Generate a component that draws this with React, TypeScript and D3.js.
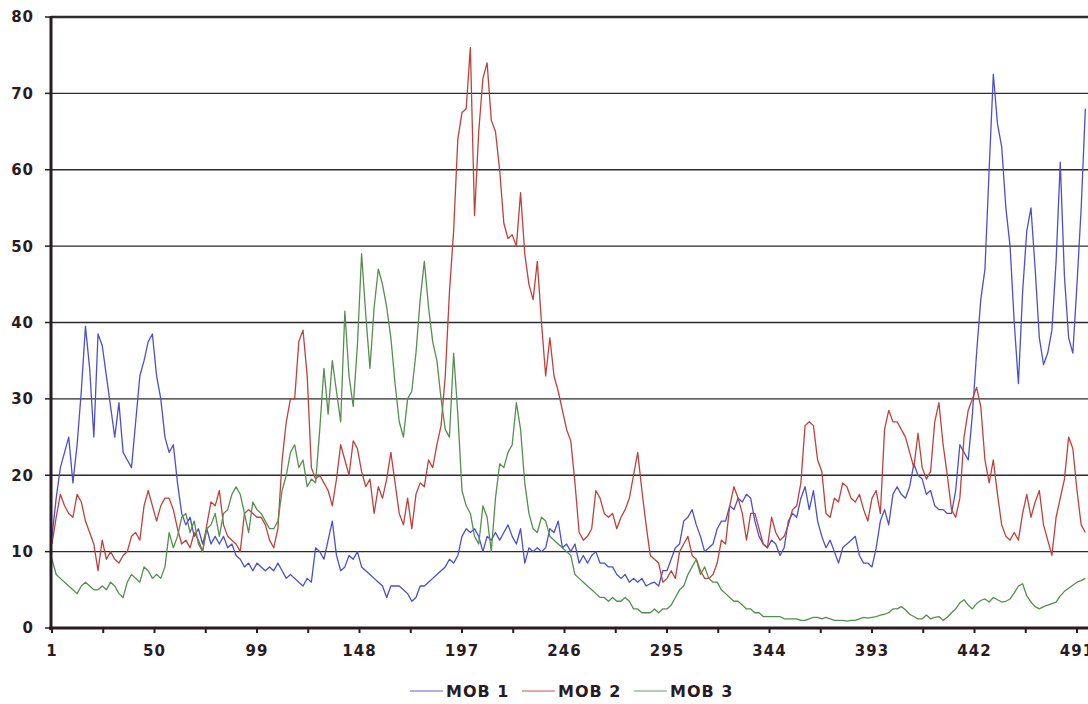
import React from "react";
import * as d3 from "d3";

// one value every 2 categories: x = 1, 3, 5, ... 495
const mob1 = [
  12, 17, 21, 23, 25, 19, 24, 31, 39.5, 34,
  25, 38.5, 37, 33, 29, 25, 29.5, 23, 22, 21,
  27, 33, 35, 37.5, 38.5, 33, 30, 25, 23, 24,
  19, 15, 13.5, 14.5, 12, 13, 11, 13, 11, 12,
  11, 12, 10.5, 11, 9.5, 9, 8, 8.5, 7.5, 8.5,
  8, 7.5, 8, 7.5, 8.5, 7.5, 6.5, 7, 6.5, 6,
  5.5, 6.5, 6, 10.5, 10, 9, 11.5, 14, 9.5, 7.5,
  8, 9.5, 9, 10, 8, 7.5, 7, 6.5, 6, 5.5,
  4, 5.5, 5.5, 5.5, 5, 4.5, 3.5, 4, 5.5, 5.5,
  6, 6.5, 7, 7.5, 8, 9, 8.5, 9.5, 12, 13,
  12.5, 13, 12, 10, 12, 11.5, 12.5, 11.5, 12.5, 13.5,
  12, 11, 13, 8.5, 10.5, 10, 10.5, 10, 10.5, 13,
  12.5, 14, 10.5, 11, 10, 11, 8.5, 9.5, 8.5, 9.5,
  10, 8.5, 8.5, 8, 8, 7, 6.5, 7, 6, 6.5,
  6, 6.5, 5.5, 5.8, 6, 5.5, 7.5, 7.5, 9, 10.5,
  11, 14, 14.5, 15.5, 13.5, 12, 10, 10.5, 11, 13,
  14, 14, 16, 15.5, 17, 16.5, 17.5, 17, 14, 12,
  11, 10.5, 11.5, 11, 9.5, 10.5, 14, 15, 14.5, 17,
  18.5, 15.5, 18, 14, 12, 10.5, 11.5, 10, 8.5, 10.5,
  11, 11.5, 12, 9.5, 8.5, 8.5, 8, 10.5, 14, 15.5,
  13.5, 17.5, 18.5, 17.5, 17, 18.5, 21.5, 20, 19.5, 17.5,
  18, 16, 15.5, 15.5, 15, 15, 18, 24, 23, 22,
  28, 36, 43, 47, 60, 72.5, 66, 63, 55, 50,
  40, 32, 44, 52, 55, 47, 38, 34.5, 36, 39,
  48, 61, 46, 38, 36, 45, 55, 68,
];

const mob2 = [
  11, 14.5, 17.5, 16, 15, 14.5, 17.5, 16.5, 14, 12.5,
  11, 7.5, 11.5, 9, 10, 9, 8.5, 9.5, 10, 12,
  12.5, 11.5, 16, 18, 16, 14, 16, 17, 17, 15.5,
  13, 11, 11.5, 10.5, 12.5, 11.5, 10, 13.5, 16.5, 16,
  18, 13.5, 12, 11.5, 11, 10, 15, 15.5, 15, 14.5,
  14.5, 13.5, 11.5, 10.5, 13, 22, 27, 30, 30, 37.5,
  39, 33, 21, 19.5, 20, 19, 18, 16, 19.5, 24,
  22, 20, 24.5, 23.5, 20.5, 18.5, 19.5, 15, 18.5, 17,
  19.5, 23, 19, 15, 13.5, 17, 13, 17.5, 19, 18.5,
  22, 21, 24, 26.5, 33, 44, 52, 64, 67.5, 68,
  76, 54, 65, 72, 74, 66.5, 65, 60, 53, 51,
  51.5, 50, 57, 49, 45, 43, 48, 40, 33, 38,
  33, 31, 28.5, 26, 24.5, 19, 12.5, 11.5, 12, 13,
  18, 17, 15, 14.5, 15, 13, 14.5, 15.5, 17, 20,
  23, 18, 13.5, 9.5, 9, 8.5, 6, 6.5, 7.5, 6.5,
  10, 11, 12, 9.5, 9, 7.5, 6.5, 6.5, 7, 8.5,
  11.5, 11, 16, 18.5, 17, 15, 11.5, 15, 15, 13,
  11, 10.5, 14.5, 12.5, 11.5, 12, 13.5, 15.5, 16, 19,
  26.5, 27, 26.5, 22, 20.5, 15, 14.5, 17, 16.5, 19,
  18.5, 17, 16.5, 17.5, 15.5, 14, 17, 18, 15, 26,
  28.5, 27, 27, 26, 25, 23, 21, 25.5, 21, 19.5,
  20.5, 27, 29.5, 24, 20, 15.5, 14.5, 17, 25, 28.5,
  30, 31.5, 29, 22, 19, 22, 17.5, 13.5, 12, 11.5,
  12.5, 11.5, 15, 17.5, 14.5, 16.5, 18, 13.5, 11.5, 9.5,
  14.5, 17, 19.5, 25, 23.5, 18, 13.5, 12.5,
];

const mob3 = [
  9, 7, 6.5, 6, 5.5, 5, 4.5, 5.5, 6, 5.5,
  5, 5, 5.5, 5, 6, 5.5, 4.5, 4, 6, 7,
  6.5, 6, 8, 7.5, 6.5, 7, 6.5, 8, 12.5, 10.5,
  12, 14.5, 15, 12.5, 14, 11, 10, 13, 13.5, 15,
  12, 15, 15.5, 17.5, 18.5, 17.5, 15, 12.5, 16.5, 15.5,
  15, 14, 13, 13, 14, 18, 20, 23, 24, 21,
  22, 18.5, 19.5, 19, 26, 34, 28, 35, 31, 27,
  41.5, 33, 29, 37, 49, 41, 34, 42, 47, 45,
  42, 38, 32, 27, 25, 30, 31, 36, 43, 48,
  42, 37.5, 35, 30, 26, 25, 36, 28, 18, 16,
  15, 12, 11, 16, 14.5, 10, 17, 21.5, 21, 23,
  24, 29.5, 26, 19, 15, 13, 12.5, 14.5, 14, 12,
  11.5, 11, 10.5, 10, 9.5, 7, 6.5, 6, 5.5, 5,
  4.5, 4, 4, 3.5, 4, 3.5, 3.5, 4, 3.5, 2.5,
  2.5, 2, 2, 2, 2.5, 2, 2.5, 2.5, 3, 4,
  5, 5.5, 7, 8, 9, 7, 8, 6.5, 6, 6,
  5, 4.5, 4, 3.5, 3.5, 3, 2.5, 2.5, 2, 2,
  1.5, 1.5, 1.5, 1.5, 1.5, 1.2, 1.2, 1.2, 1.2, 1,
  1, 1.2, 1.4, 1.4, 1.2, 1.4, 1.2, 1, 1, 1,
  0.9, 1, 1, 1.2, 1.4, 1.3, 1.4, 1.5, 1.7, 1.8,
  2, 2.5, 2.5, 2.8, 2.4, 1.8, 1.5, 1.2, 1.2, 1.7,
  1.2, 1.4, 1.5, 1, 1.4, 2, 2.5, 3.3, 3.7, 3,
  2.5, 3.2, 3.6, 3.8, 3.4, 4, 3.7, 3.4, 3.5, 3.8,
  4.6, 5.5, 5.8, 4.2, 3.4, 2.8, 2.5, 2.8, 3, 3.2,
  3.4, 4.2, 4.8, 5.2, 5.6, 6, 6.2, 6.5,
];

const seriesNames = ["MOB 1", "MOB 2", "MOB 3"];
const seriesColors = ["#4b4fcf", "#c0403c", "#548f4e"];
const xLabels = [1, 50, 99, 148, 197, 246, 295, 344, 393, 442, 491];
const yTicks = [0, 10, 20, 30, 40, 50, 60, 70, 80];

const W = 1088;
const H = 704;
const left = 51;
const right = 1088;
const top = 17;
const bottom = 628;
const ink = "#2a1b22";
const font = "'DejaVu Sans', Verdana, sans-serif";

export default function App() {
  const x = d3.scaleLinear().domain([1, 491]).range([52, 1077]);
  const y = d3.scaleLinear().domain([0, 80]).range([bottom, top]);

  const line = d3
    .line<number>()
    .x((_, i) => x(1 + 2 * i))
    .y((d) => y(d));

  const series = [mob1, mob2, mob3];
  const tickMarks = d3.range(1, 500, 24.5);

  return (
    <svg
      width={W}
      height={H}
      style={{ position: "absolute", left: 0, top: 0, background: "#fff" }}
    >
      <defs>
        <clipPath id="plot">
          <rect x={left} y={top - 2} width={right - left} height={bottom - top + 2} />
        </clipPath>
      </defs>
      <rect width={W} height={H} fill="#fff" />

      {/* gridlines */}
      {yTicks.slice(1).map((t) => (
        <line
          key={t}
          x1={left}
          x2={right}
          y1={y(t)}
          y2={y(t)}
          stroke="#2b2b2b"
          strokeWidth={t === 80 ? 2.5 : 1.4}
        />
      ))}

      {/* series */}
      <g clipPath="url(#plot)">
        {series.map((s, k) => (
          <path
            key={k}
            d={line(s) ?? ""}
            fill="none"
            stroke={seriesColors[k]}
            strokeWidth={1.3}
            strokeLinejoin="round"
          />
        ))}
      </g>

      {/* axes */}
      <line x1={left} x2={left} y1={top - 1} y2={bottom + 2} stroke={ink} strokeWidth={3} />
      <line x1={left - 2} x2={right} y1={bottom} y2={bottom} stroke={ink} strokeWidth={3} />

      {yTicks.map((t) => (
        <g key={t}>
          <line x1={left - 6} x2={left} y1={y(t)} y2={y(t)} stroke={ink} strokeWidth={1.5} />
          <text
            x={34}
            y={y(t)}
            dy="0.36em"
            textAnchor="end"
            fontFamily={font}
            fontWeight="bold"
            fontSize={15}
            letterSpacing={1}
            fill={ink}
          >
            {t}
          </text>
        </g>
      ))}

      {tickMarks.map((t) => (
        <line
          key={t}
          x1={x(t)}
          x2={x(t)}
          y1={bottom}
          y2={bottom + 5}
          stroke={ink}
          strokeWidth={2}
        />
      ))}
      {xLabels.map((t) => (
        <text
          key={t}
          x={x(t)}
          y={656}
          textAnchor="middle"
          fontFamily={font}
          fontWeight="bold"
          fontSize={15}
          letterSpacing={1}
          fill={ink}
        >
          {t}
        </text>
      ))}

      {/* legend */}
      {seriesNames.map((n, k) => {
        const lx = 410 + k * 112;
        return (
          <g key={n}>
            <line
              x1={lx}
              x2={lx + 33}
              y1={691}
              y2={691}
              stroke={seriesColors[k]}
              strokeOpacity={0.6}
              strokeWidth={1.5}
            />
            <text
              x={lx + 36}
              y={697}
              fontFamily={font}
              fontWeight="bold"
              fontSize={16}
              letterSpacing={1}
              fill={ink}
            >
              {n}
            </text>
          </g>
        );
      })}
    </svg>
  );
}
